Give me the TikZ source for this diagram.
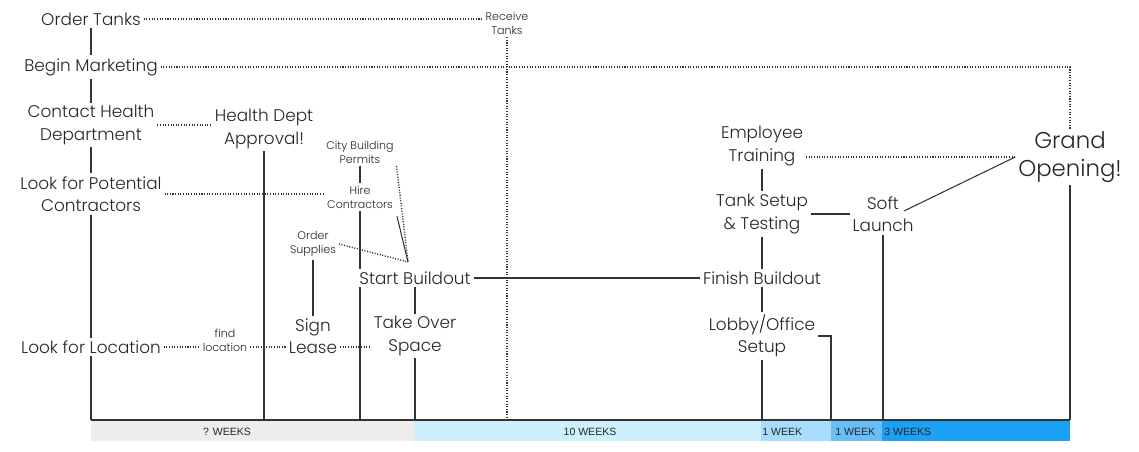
\documentclass[tikz,border=0pt]{standalone}
\usepackage{fontspec}
\setmainfont{Poppins}[UprightFont={* Light}]
\newfontfamily\weekfont{Liberation Sans}
\definecolor{weekgray}{HTML}{EEEDEB}
\definecolor{weekcyan}{HTML}{CDF0FC}
\definecolor{weeksky}{HTML}{A8DCFC}
\definecolor{weekmid}{HTML}{6BBDF8}
\definecolor{weekblue}{HTML}{1BA1F4}
\definecolor{inkline}{HTML}{333333}
\begin{document}
\begin{tikzpicture}
[x=0.02cm,y=-0.02cm,%
  taskdecorate/.style={align=center,inner sep=1.5pt,text=black!85,font=\fontsize{9.6}{12.6}\selectfont},%
  smalldecorate/.style={align=center,inner sep=1.5pt,text=black!85,font=\fontsize{6.3}{8}\selectfont},%
  granddecorate/.style={align=center,inner sep=1.5pt,text=black!85,font=\fontsize{13}{15.5}\selectfont},%
  weekdecorate/.style={inner sep=0pt,text=black!85,font=\weekfont\fontsize{6}{7}\selectfont},%
  linedecorate/.style={-,draw=inkline,line width=0.6pt},%
  medlinedecorate/.style={-,draw=inkline,line width=0.9pt},%
  thickdecorate/.style={-,draw=inkline,line width=1.2pt},%
  dotdecorate/.style={-,draw=inkline,line width=0.8pt,dash pattern=on 0.6pt off 0.9pt}]
\useasboundingbox (0,0) rectangle (1139,452);
%% week bars
\foreach \colorname/\xa/\xb in {weekgray/91/414, weekcyan/414/761,
  weeksky/761/831, weekmid/831/882, weekblue/882/1070} {
  \fill[\colorname] (\xa,420) rectangle (\xb,441);
}
\coordinate (base) at (91,420);
\coordinate (baseend) at (1070,420);
\coordinate (sbtop) at (408,262);
%% tasks
\foreach \nodename/\x/\y/\txt in {ot/91/19/{Order Tanks}, bm/91/67/{Begin Marketing},
  ch/91/125/{Contact Health\\Department}, lpc/91/194/{Look for Potential\\Contractors},
  loc/91/347/{Look for Location}, apr/264/129/{Health Dept\\Approval!},
  sb/415/278/{Start Buildout}, sign/313/336/{Sign\\Lease}, space/415/336/{Take Over\\Space},
  fb/762/278/{Finish Buildout}, et/762/146/{Employee\\Training},
  ts/762/214/{Tank Setup\\\& Testing}, lo/762/336/{Lobby/Office\\Setup},
  sl/883/214/{Soft\\Launch}} {
  \node (\nodename) at (\x,\y) [taskdecorate] {\txt};
}
\foreach \nodename/\x/\y/\txt in {rt/507/23/{Receive\\Tanks}, cbp/360/152/{City Building\\Permits},
  hire/360/197/{Hire\\Contractors}, os/313/244/{Order\\Supplies},
  findloc/225/340/{find\\location}} {
  \node (\nodename) at (\x,\y) [smalldecorate] {\txt};
}
\node (go) at (1070,157) [granddecorate] {Grand\\Opening!};
\coordinate (softtip) at ([shift={(21,-3)}]sl.center);
%% week labels
\node (wkq) at (227,432) [weekdecorate] {? WEEKS};
\node (wkten) at (590,432) [weekdecorate] {10 WEEKS};
\node (wkonea) at (762,432) [weekdecorate,anchor=west] {1 WEEK};
\node (wkoneb) at (835,432) [weekdecorate,anchor=west] {1 WEEK};
\node (wkthree) at (884,432) [weekdecorate,anchor=west] {3 WEEKS};
%% solid edges
\path
\foreach \startnode/\endnode in {cbp/hire, os/sign, sb/fb, et/ts, ts/fb, fb/lo, ts/sl} {
  (\startnode) edge[linedecorate] (\endnode)
};
\path
\foreach \startnode/\endnode in {ot/bm, bm/ch, ch/lpc, lpc/loc, sb/space} {
  (\startnode) edge[thickdecorate] (\endnode)
};
\path
\foreach \nodename in {apr, lo} {
  (\nodename) edge[linedecorate] (\nodename |- base)
};
\path
\foreach \nodename in {loc, space, go} {
  (\nodename) edge[thickdecorate] (\nodename |- base)
};
\draw[linedecorate] (hire) -- (hire |- sb.north);
\draw[linedecorate] (hire |- sb.south) -- (hire |- base);
\draw[linedecorate,shorten <=3pt] (hire.south east) -- (sbtop);
\draw[linedecorate] (softtip) -- (go.west);
\draw[medlinedecorate] (sl) -- (sl |- base);
\draw[medlinedecorate] (lo.east) -| (831,420);
%% dotted edges
\draw[dotdecorate] (ot) -- (ot -| rt.west);
\draw[dotdecorate] (rt) -- (rt |- base);
\draw[dotdecorate] (bm) -| (go);
\draw[dotdecorate] (ch) -- (ch -| apr.west);
\draw[dotdecorate] (lpc) -- (lpc -| hire.west);
\draw[dotdecorate] (cbp.south east) -- (sbtop);
\draw[dotdecorate] (os.east) -- (sbtop);
\draw[dotdecorate] (loc) -- (loc -| findloc.west);
\draw[dotdecorate] (loc -| findloc.east) -- (loc -| sign.west);
\draw[dotdecorate] (loc -| sign.east) -- (loc -| space.west);
\draw[dotdecorate] (go.west -| et.east) -- (go.west);
%% time axis
\draw[thickdecorate] (base) -- (baseend);
\end{tikzpicture}
\end{document}
